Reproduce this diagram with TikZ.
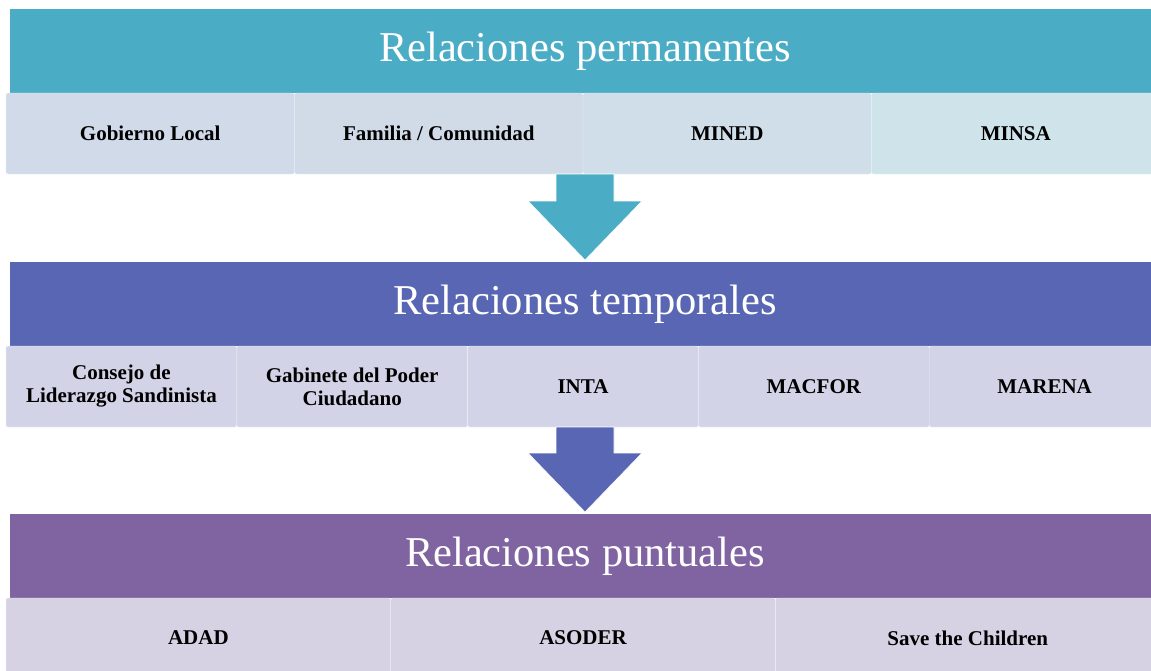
\documentclass[tikz,border=0pt]{standalone}
\usepackage{fontspec}
\setmainfont{Liberation Serif}
\usetikzlibrary{calc}
\definecolor{permcol}{HTML}{4BACC6}
\definecolor{tempcol}{HTML}{5966B3}
\definecolor{puntcol}{HTML}{8064A2}
\definecolor{permA}{HTML}{D1DAE8}
\definecolor{permB}{HTML}{D1DBE8}
\definecolor{permC}{HTML}{D0DEEA}
\definecolor{permD}{HTML}{CFE3EA}
\definecolor{tempbg}{HTML}{D2D3E7}
\definecolor{puntbg}{HTML}{D6D2E3}

\begin{document}
\begin{tikzpicture}[x=1pt,y=-1pt]
\useasboundingbox (0,0) rectangle (1151,670);
\clip (0,0) rectangle (1151,670);

\tikzset{every node/.style={align=center, inner sep=0pt, outer sep=0pt}}
\tikzset{head/.style={anchor=north west, fill=#1, text=white, minimum width=1150pt, minimum height=84pt, font=\fontsize{42.5}{46}\selectfont}}
\tikzset{cell/.style={anchor=north west, fill=#1, draw=white!60!#1, line width=.4pt, rounded corners=2pt, minimum height=81pt, font=\fontsize{21}{23}\selectfont\bfseries}}
\tikzset{blockarrow/.style={fill=#1, draw=white, line width=.6pt}}

%%%%%% permanentes
\node(perm)at(10,9)[head=permcol]{Relaciones permanentes};
\node(gob)at($(perm.south west)+(-4,0)$)[cell=permA,minimum width=288.5pt]{Gobierno Local};
\node(fam)at(gob.north east)[cell=permB,minimum width=288.5pt]{Familia / Comunidad};
\node(mined)at(fam.north east)[cell=permC,minimum width=288.5pt]{MINED};
\node(minsa)at(mined.north east)[cell=permD,minimum width=288.5pt]{MINSA};

%%%%%% temporales
\node(temp)at(10,262)[head=tempcol]{Relaciones temporales};
\node(cls)at($(temp.south west)+(-4,0)$)[cell=tempbg,minimum width=230.8pt]{Consejo de\\Liderazgo Sandinista};
\node(gpc)at(cls.north east)[cell=tempbg,minimum width=230.8pt]{Gabinete del Poder\\Ciudadano};
\node(inta)at(gpc.north east)[cell=tempbg,minimum width=230.8pt]{INTA};
\node(macfor)at(inta.north east)[cell=tempbg,minimum width=230.8pt]{MACFOR};
\node(marena)at(macfor.north east)[cell=tempbg,minimum width=230.8pt]{MARENA};

%%%%%% puntuales
\node(punt)at(10,514)[head=puntcol]{Relaciones puntuales};
\node(adad)at($(punt.south west)+(-4,0)$)[cell=puntbg,minimum width=384.7pt,minimum height=80pt]{ADAD};
\node(asoder)at(adad.north east)[cell=puntbg,minimum width=384.7pt,minimum height=80pt]{ASODER};
\node(save)at(asoder.north east)[cell=puntbg,minimum width=384.7pt,minimum height=80pt]{Save the Children};

%%%%%% arrows
\coordinate(top1)at(perm.center |- gob.south);
\coordinate(base1)at($(temp.north)+(0,-61)$);
\draw[blockarrow=permcol] ($(top1)+(-29,0)$) -- ($(top1)+(29,0)$) -- ($(base1)+(29,0)$) -- ($(base1)+(57,0)$) -- ($(temp.north)+(0,-2)$) -- ($(base1)+(-57,0)$) -- ($(base1)+(-29,0)$) -- cycle;

\coordinate(top2)at(temp.center |- cls.south);
\coordinate(base2)at($(punt.north)+(0,-61)$);
\draw[blockarrow=tempcol] ($(top2)+(-29,0)$) -- ($(top2)+(29,0)$) -- ($(base2)+(29,0)$) -- ($(base2)+(57,0)$) -- ($(punt.north)+(0,-2)$) -- ($(base2)+(-57,0)$) -- ($(base2)+(-29,0)$) -- cycle;
\end{tikzpicture}
\end{document}
